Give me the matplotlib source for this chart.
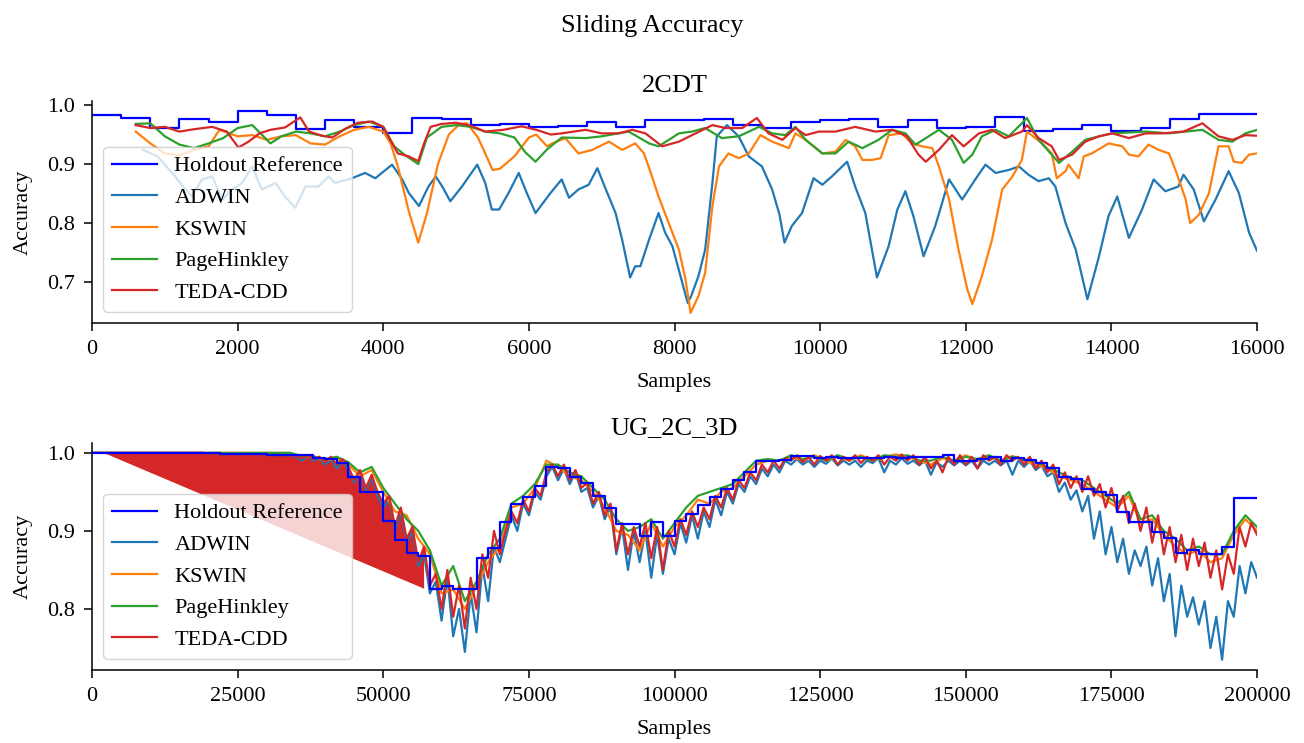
"""Sliding accuracy of drift detectors on two streams."""

import matplotlib

matplotlib.use("Agg")
import matplotlib.pyplot as plt
import numpy as np

plt.rcParams["font.family"] = ["Liberation Serif", "DejaVu Serif"]

# ---------------- 2CDT (16000 samples) ----------------
cdt_holdout_x = list(range(0, 16001, 400))
cdt_holdout_y = [
    0.983, 0.978, 0.961, 0.976, 0.972, 0.990, 0.983, 0.959, 0.974, 0.962,
    0.953, 0.978, 0.976, 0.967, 0.968, 0.962, 0.965, 0.971, 0.962, 0.974,
    0.974, 0.976, 0.966, 0.961, 0.971, 0.974, 0.976, 0.962, 0.974, 0.961,
    0.962, 0.980, 0.956, 0.960, 0.967, 0.956, 0.961, 0.976, 0.985, 0.985,
    0.985,
]

cdt_adwin_x = [
    700, 900, 1100, 1250, 1370, 1510, 1650, 1790, 1920, 2060, 2200, 2330,
    2520, 2650, 2790, 2930, 3110, 3250, 3340, 3570, 3750, 3890, 4120, 4260,
    4350, 4490, 4620, 4720, 4810, 4920, 5080, 5290, 5400, 5490, 5590, 5720,
    5860, 5950, 6090, 6290, 6450, 6550, 6680, 6820, 6940, 7050, 7190, 7280,
    7390, 7460, 7530, 7650, 7780, 7870, 7970, 8080, 8180, 8230, 8330, 8420,
    8520, 8580, 8720, 8880, 9020, 9200, 9340, 9440, 9510, 9610, 9750, 9910,
    10030, 10160, 10370, 10480, 10620, 10780, 10940, 11060, 11170, 11280,
    11420, 11580, 11770, 11950, 12130, 12270, 12410, 12590, 12730, 12860,
    13000, 13140, 13230, 13370, 13510, 13670, 13830, 13960, 14080, 14240,
    14420, 14580, 14740, 14920, 14990, 15130, 15270, 15430, 15610, 15750,
    15890, 16000,
]
cdt_adwin_y = [
    0.924, 0.913, 0.885, 0.862, 0.845, 0.874, 0.879, 0.840, 0.857, 0.868, 0.896, 0.857,
    0.868, 0.845, 0.826, 0.862, 0.862, 0.879, 0.868, 0.876, 0.885, 0.876, 0.899, 0.874,
    0.851, 0.829, 0.862, 0.879, 0.862, 0.837, 0.862, 0.899, 0.868, 0.823, 0.823, 0.851,
    0.885, 0.857, 0.817, 0.850, 0.874, 0.843, 0.857, 0.865, 0.893, 0.859, 0.817, 0.772,
    0.708, 0.727, 0.727, 0.772, 0.817, 0.784, 0.761, 0.711, 0.665, 0.677, 0.711, 0.755,
    0.868, 0.947, 0.966, 0.947, 0.913, 0.896, 0.857, 0.815, 0.767, 0.795, 0.817, 0.876,
    0.865, 0.879, 0.904, 0.862, 0.817, 0.708, 0.761, 0.823, 0.854, 0.812,
    0.744, 0.795, 0.874, 0.840, 0.874, 0.899, 0.885, 0.890, 0.896, 0.882,
    0.871, 0.876, 0.862, 0.800, 0.755, 0.671, 0.744, 0.812, 0.845, 0.775,
    0.823, 0.874, 0.854, 0.862, 0.882, 0.857, 0.803, 0.840, 0.888, 0.851,
    0.784, 0.753,
]

cdt_kswin_x = [
    600, 800, 1000, 1200, 1400, 1600, 1750, 2000, 2200, 2400, 2600, 2800,
    3000, 3200, 3400, 3600, 3800, 4000, 4100, 4200, 4350, 4480, 4600, 4750,
    4900, 5050, 5150, 5300, 5400, 5500, 5600, 5800, 6000, 6100, 6250, 6320,
    6500, 6680, 6870, 7100, 7280, 7460, 7580, 7690, 7780, 7920, 8060, 8150,
    8220, 8330, 8420, 8520, 8610, 8740, 8880, 9020, 9180, 9340, 9570, 9660,
    9800, 10030, 10210, 10350, 10480, 10580, 10710, 10830, 10940, 11120,
    11260, 11400, 11540, 11630, 11770, 11900, 12020, 12090, 12220, 12360,
    12500, 12640, 12770, 12840, 13050, 13180, 13250, 13370, 13410, 13550,
    13620, 13730, 13960, 14150, 14240, 14370, 14510, 14650, 14790, 14880,
    15020, 15080, 15200, 15340, 15470, 15610, 15680, 15790, 15890, 16000,
]
cdt_kswin_y = [
    0.955, 0.935, 0.918, 0.915, 0.924, 0.930, 0.958, 0.947, 0.949, 0.941, 0.947, 0.949,
    0.935, 0.933, 0.947, 0.958, 0.963, 0.955, 0.935, 0.896, 0.820, 0.767, 0.817, 0.900,
    0.950, 0.968, 0.969, 0.945, 0.918, 0.890, 0.892, 0.913, 0.945, 0.950, 0.930, 0.935,
    0.944, 0.918, 0.924, 0.938, 0.924, 0.935, 0.918, 0.879, 0.845, 0.800, 0.755, 0.705,
    0.648, 0.677, 0.716, 0.829, 0.896, 0.918, 0.910, 0.918, 0.949, 0.938, 0.927, 0.952,
    0.941, 0.918, 0.921, 0.941, 0.930, 0.907, 0.907, 0.910, 0.949, 0.952,
    0.935, 0.930, 0.927, 0.896, 0.840, 0.755, 0.688, 0.663, 0.710, 0.772,
    0.857, 0.879, 0.907, 0.955, 0.935, 0.918, 0.876, 0.888, 0.899, 0.876,
    0.913, 0.918, 0.935, 0.930, 0.916, 0.913, 0.933, 0.924, 0.918, 0.890,
    0.840, 0.800, 0.814, 0.851, 0.930, 0.930, 0.904, 0.902, 0.916, 0.918,
]

cdt_ph_x = [
    600, 800, 1000, 1200, 1400, 1600, 1800, 2000, 2200, 2450, 2600, 2800,
    3000, 3200, 3400, 3600, 3800, 4000, 4150, 4300, 4480, 4600, 4800, 5000,
    5200, 5400, 5600, 5800, 5950, 6090, 6250, 6450, 6780, 7000, 7370, 7650,
    7780, 8060, 8240, 8420, 8650, 8880, 9160, 9340, 9520, 9660, 9800, 10030,
    10210, 10390, 10580, 10800, 10990, 11170, 11310, 11490, 11630, 11810,
    11970, 12090, 12220, 12410, 12590, 12770, 12840, 13000, 13280, 13460,
    13640, 13830, 14010, 14470, 14790, 15250, 15470, 15660, 15840, 16000,
]
cdt_ph_y = [
    0.968, 0.969, 0.947, 0.933, 0.927, 0.935, 0.944, 0.961, 0.966, 0.935, 0.947, 0.955,
    0.952, 0.947, 0.955, 0.966, 0.972, 0.963, 0.930, 0.915, 0.900, 0.945, 0.963, 0.966,
    0.963, 0.955, 0.952, 0.945, 0.920, 0.904, 0.925, 0.945, 0.944, 0.947, 0.955, 0.935,
    0.930, 0.952, 0.955, 0.961, 0.944, 0.947, 0.963, 0.952, 0.949, 0.963, 0.941, 0.918,
    0.918, 0.938, 0.927, 0.941, 0.958, 0.952, 0.933, 0.947, 0.958, 0.941,
    0.902, 0.916, 0.947, 0.958, 0.947, 0.969, 0.978, 0.941, 0.902, 0.921,
    0.941, 0.947, 0.952, 0.955, 0.952, 0.958, 0.941, 0.938, 0.952, 0.958,
]

cdt_teda_x = [
    600, 800, 1000, 1200, 1400, 1650, 1850, 2010, 2150, 2300, 2450, 2650,
    2860, 2980, 3160, 3300, 3480, 3650, 3850, 4000, 4100, 4200, 4350, 4480,
    4560, 4650, 4800, 5000, 5200, 5400, 5650, 5900, 6100, 6300, 6450, 6780,
    7000, 7230, 7420, 7600, 7830, 8060, 8290, 8520, 8700, 8930, 9130, 9290,
    9480, 9660, 9800, 9980, 10210, 10480, 10760, 10990, 11190, 11350, 11450,
    11630, 11810, 11970, 12180, 12360, 12540, 12770, 12840, 13000, 13180,
    13280, 13460, 13640, 13830, 14010, 14240, 14470, 14700, 14990, 15250,
    15470, 15660, 15840, 16000,
]
cdt_teda_y = [
    0.966, 0.961, 0.963, 0.955, 0.959, 0.963, 0.955, 0.928, 0.938, 0.952, 0.958, 0.962,
    0.979, 0.955, 0.948, 0.945, 0.960, 0.970, 0.972, 0.963, 0.940, 0.918, 0.913, 0.905,
    0.935, 0.963, 0.968, 0.970, 0.965, 0.955, 0.958, 0.964, 0.958, 0.950, 0.952, 0.958,
    0.952, 0.952, 0.958, 0.952, 0.930, 0.938, 0.952, 0.966, 0.961, 0.961, 0.978, 0.952,
    0.941, 0.961, 0.949, 0.955, 0.955, 0.963, 0.955, 0.958, 0.947, 0.916, 0.904,
    0.924, 0.949, 0.930, 0.952, 0.958, 0.944, 0.955, 0.966, 0.944, 0.930,
    0.907, 0.916, 0.938, 0.947, 0.952, 0.944, 0.952, 0.952, 0.955, 0.969,
    0.947, 0.941, 0.949, 0.948,
]

# ---------------- UG_2C_3D (200000 samples) ----------------
ug_holdout_x = list(range(0, 200001, 2000))
ug_holdout_y = (
    [1.0] * 11 + [0.999] * 4 + [0.997] * 4
    + [0.994, 0.992, 0.987, 0.969, 0.950, 0.950, 0.913, 0.889, 0.872, 0.868,
       0.825, 0.829, 0.826, 0.826, 0.865, 0.878, 0.911, 0.935, 0.943, 0.958,
       0.982, 0.980, 0.969, 0.961, 0.945, 0.929, 0.909, 0.909, 0.893, 0.912,
       0.893, 0.913, 0.922, 0.933, 0.944, 0.954, 0.965, 0.976, 0.989, 0.989,
       0.991, 0.9965, 0.9965, 0.994, 0.995, 0.993, 0.993, 0.993, 0.993, 0.995,
       0.994, 0.995, 0.995, 0.995, 0.997, 0.990, 0.990, 0.992, 0.995, 0.990,
       0.993, 0.991, 0.987, 0.980, 0.969, 0.967, 0.954, 0.950, 0.946, 0.924,
       0.911, 0.911, 0.899, 0.891, 0.872, 0.875, 0.871, 0.871, 0.879, 0.942,
       0.942, 0.942]
)

ug_x = list(range(0, 200001, 1000))
ug_adwin = [1.0] * 20 + [
    0.999, 0.998, 0.999, 0.998, 0.999, 0.998, 0.999, 0.997, 0.998, 0.997,
    0.998, 0.996, 0.998, 0.996, 0.997,
    0.995, 0.990, 0.996, 0.990, 0.993,
    0.985, 0.992, 0.980, 0.990, 0.978,
    0.962, 0.975, 0.952, 0.968, 0.945,
    0.930, 0.940, 0.900, 0.925, 0.885,
    0.900, 0.855, 0.870, 0.820, 0.835,
    0.785, 0.840, 0.765, 0.800, 0.745,
    0.820, 0.770, 0.855, 0.810, 0.880,
    0.860, 0.890, 0.920, 0.900, 0.935,
    0.920, 0.950, 0.940, 0.970, 0.982,
    0.965, 0.980, 0.960, 0.975, 0.950,
    0.955, 0.930, 0.945, 0.915, 0.930,
    0.870, 0.905, 0.850, 0.900, 0.860,
    0.900, 0.840, 0.895, 0.845, 0.890,
    0.870, 0.910, 0.885, 0.920, 0.890,
    0.925, 0.905, 0.940, 0.920, 0.950,
    0.935, 0.960, 0.950, 0.970, 0.960,
    0.980, 0.970, 0.985, 0.975, 0.990,
    0.985, 0.992, 0.985, 0.990, 0.982,
    0.990, 0.986, 0.993, 0.984, 0.990,
    0.985, 0.990, 0.982, 0.990, 0.987,
    0.993, 0.975, 0.990, 0.985, 0.993,
    0.986, 0.990, 0.984, 0.990, 0.972,
    0.988, 0.982, 0.990, 0.984, 0.990,
    0.984, 0.990, 0.980, 0.990, 0.985,
    0.990, 0.984, 0.990, 0.972, 0.990,
    0.982, 0.990, 0.978, 0.984, 0.970,
    0.975, 0.950, 0.962, 0.940, 0.952,
    0.925, 0.945, 0.890, 0.925, 0.870,
    0.905, 0.860, 0.890, 0.845, 0.875,
    0.855, 0.880, 0.830, 0.865, 0.810,
    0.845, 0.765, 0.830, 0.790, 0.815,
    0.780, 0.810, 0.750, 0.790, 0.735,
    0.810, 0.790, 0.855, 0.820, 0.860,
    0.840,
]
ug_teda = [1.0] * 20 + [
    0.999, 0.998, 0.999, 0.998, 0.999, 0.998, 0.999, 0.997, 0.998, 0.997,
    0.998, 0.996, 0.998, 0.996, 0.997,
    0.996, 0.993, 0.997, 0.992, 0.995,
    0.988, 0.995, 0.985, 0.992, 0.982,
    0.965, 0.978, 0.955, 0.972, 0.950,
    0.935, 0.945, 0.905, 0.930, 0.890,
    0.905, 0.860, 0.880, 0.830, 0.845,
    0.800, 0.850, 0.790, 0.830, 0.775,
    0.840, 0.800, 0.870, 0.840, 0.900,
    0.870, 0.900, 0.925, 0.910, 0.940,
    0.925, 0.955, 0.945, 0.975, 0.985,
    0.970, 0.985, 0.965, 0.978, 0.955,
    0.962, 0.935, 0.950, 0.920, 0.935,
    0.875, 0.910, 0.870, 0.905, 0.880,
    0.910, 0.865, 0.905, 0.850, 0.900,
    0.880, 0.915, 0.895, 0.925, 0.905,
    0.930, 0.915, 0.945, 0.930, 0.955,
    0.940, 0.965, 0.955, 0.975, 0.965,
    0.985, 0.975, 0.990, 0.980, 0.993,
    0.990, 0.997, 0.988, 0.995, 0.985,
    0.996, 0.990, 0.997, 0.985, 0.995,
    0.990, 0.997, 0.987, 0.995, 0.990,
    0.997, 0.985, 0.995, 0.990, 0.998,
    0.990, 0.997, 0.985, 0.995, 0.980,
    0.990, 0.975, 0.995, 0.985, 0.997,
    0.985, 0.995, 0.980, 0.997, 0.990,
    0.995, 0.985, 0.997, 0.990, 0.995,
    0.985, 0.995, 0.980, 0.990, 0.975,
    0.985, 0.960, 0.975, 0.955, 0.970,
    0.950, 0.970, 0.945, 0.960, 0.930,
    0.955, 0.925, 0.945, 0.910, 0.935,
    0.900, 0.930, 0.885, 0.920, 0.870,
    0.905, 0.860, 0.895, 0.850, 0.890,
    0.855, 0.885, 0.840, 0.875, 0.825,
    0.870, 0.845, 0.905, 0.880, 0.910,
    0.895,
]
# lagging start of the TEDA-CDD window (straight chord under the curve)
teda_fan_x = [2000, 57000]
teda_fan_y = [1.0, 0.826]

ug_x2 = list(range(0, 200001, 2000))
ug_kswin = [1.0] * 18 + [
    0.995, 0.996,
    0.990, 0.993, 0.985, 0.970, 0.978,
    0.950, 0.925, 0.920, 0.890, 0.870,
    0.820, 0.825, 0.800, 0.830, 0.860,
    0.880, 0.930, 0.935, 0.955, 0.990,
    0.982, 0.970, 0.965, 0.950, 0.930,
    0.900, 0.895, 0.875, 0.910, 0.880,
    0.905, 0.920, 0.940, 0.935, 0.950,
    0.955, 0.970, 0.985, 0.990, 0.990,
    0.995, 0.990, 0.997, 0.990, 0.995,
    0.990, 0.997, 0.990, 0.995, 0.998,
    0.995, 0.990, 0.985, 0.993, 0.990,
    0.997, 0.990, 0.995, 0.990, 0.996,
    0.990, 0.985, 0.980, 0.970, 0.965,
    0.960, 0.950, 0.940, 0.930, 0.945,
    0.910, 0.915, 0.895, 0.880, 0.870,
    0.875, 0.860, 0.865, 0.895, 0.915,
    0.900,
]
ug_ph = [1.0] * 18 + [
    0.996, 0.995,
    0.992, 0.995, 0.988, 0.975, 0.982,
    0.955, 0.935, 0.915, 0.900, 0.875,
    0.830, 0.855, 0.810, 0.835, 0.870,
    0.890, 0.935, 0.945, 0.960, 0.985,
    0.985, 0.975, 0.970, 0.955, 0.940,
    0.915, 0.900, 0.905, 0.915, 0.890,
    0.910, 0.930, 0.945, 0.950, 0.955,
    0.960, 0.975, 0.990, 0.992, 0.990,
    0.997, 0.992, 0.995, 0.990, 0.997,
    0.992, 0.995, 0.990, 0.997, 0.995,
    0.997, 0.990, 0.990, 0.995, 0.990,
    0.995, 0.992, 0.997, 0.990, 0.995,
    0.992, 0.988, 0.982, 0.975, 0.968,
    0.965, 0.955, 0.945, 0.935, 0.950,
    0.915, 0.920, 0.900, 0.890, 0.875,
    0.880, 0.870, 0.870, 0.900, 0.920,
    0.905,
]

COLORS = {
    "Holdout Reference": "blue",
    "ADWIN": "tab:blue",
    "KSWIN": "tab:orange",
    "PageHinkley": "tab:green",
    "TEDA-CDD": "tab:red",
}

fig = plt.figure(figsize=(13.04, 7.43), dpi=100)
ax1 = fig.add_axes([0.0706, 0.5653, 0.8934, 0.299])
ax2 = fig.add_axes([0.0706, 0.0982, 0.8934, 0.3062])

# top panel
ax1.plot(cdt_holdout_x, cdt_holdout_y, drawstyle="steps-post", lw=1.6,
         color=COLORS["Holdout Reference"], label="Holdout Reference")
ax1.plot(cdt_adwin_x, cdt_adwin_y, lw=1.6, color=COLORS["ADWIN"], label="ADWIN")
ax1.plot(cdt_kswin_x, cdt_kswin_y, lw=1.6, color=COLORS["KSWIN"], label="KSWIN")
ax1.plot(cdt_ph_x, cdt_ph_y, lw=1.6, color=COLORS["PageHinkley"], label="PageHinkley")
ax1.plot(cdt_teda_x, cdt_teda_y, lw=1.6, color=COLORS["TEDA-CDD"], label="TEDA-CDD")
ax1.set_xlim(0, 16000)
ax1.set_xticks(range(0, 16001, 2000))
ax1.set_yticks([0.7, 0.8, 0.9, 1.0])
ax1.set_title("2CDT", fontsize=19)

# bottom panel
ax2.plot(ug_holdout_x, ug_holdout_y, drawstyle="steps-post", lw=1.6, zorder=3,
         color=COLORS["Holdout Reference"], label="Holdout Reference")
ax2.plot(ug_x, ug_adwin, lw=1.6, color=COLORS["ADWIN"], label="ADWIN")
ax2.plot(ug_x2, ug_kswin, lw=1.6, color=COLORS["KSWIN"], label="KSWIN")
ax2.plot(ug_x2, ug_ph, lw=1.6, color=COLORS["PageHinkley"], label="PageHinkley")
ax2.plot(ug_x, ug_teda, lw=1.6, color=COLORS["TEDA-CDD"], label="TEDA-CDD")

fan = [(x, y) for x, y in zip(ug_x, ug_teda) if teda_fan_x[0] <= x <= teda_fan_x[1]]
fan_x = [p[0] for p in fan] + teda_fan_x[::-1]
fan_y = [p[1] for p in fan] + teda_fan_y[::-1]
ax2.fill(fan_x, fan_y, color=COLORS["TEDA-CDD"], lw=0)

ax2.set_xlim(0, 200000)
ax2.set_xticks(range(0, 200001, 25000))
ax2.set_yticks([0.8, 0.9, 1.0])
ax2.set_title("UG_2C_3D", fontsize=19)

for ax in (ax1, ax2):
    ax.set_xlabel("Samples", fontsize=16, labelpad=10)
    ax.set_ylabel("Accuracy", fontsize=16, labelpad=10)
    ax.tick_params(labelsize=16, length=5.8, width=1.1, pad=6.5)
    ax.spines["top"].set_visible(False)
    ax.spines["right"].set_visible(False)
    ax.spines["left"].set_linewidth(1.1)
    ax.spines["bottom"].set_linewidth(1.1)
    ax.legend(loc="lower left", fontsize=16)

fig.suptitle("Sliding Accuracy", fontsize=19, y=0.98)

fig.savefig("out.png", dpi=100, facecolor="white")
